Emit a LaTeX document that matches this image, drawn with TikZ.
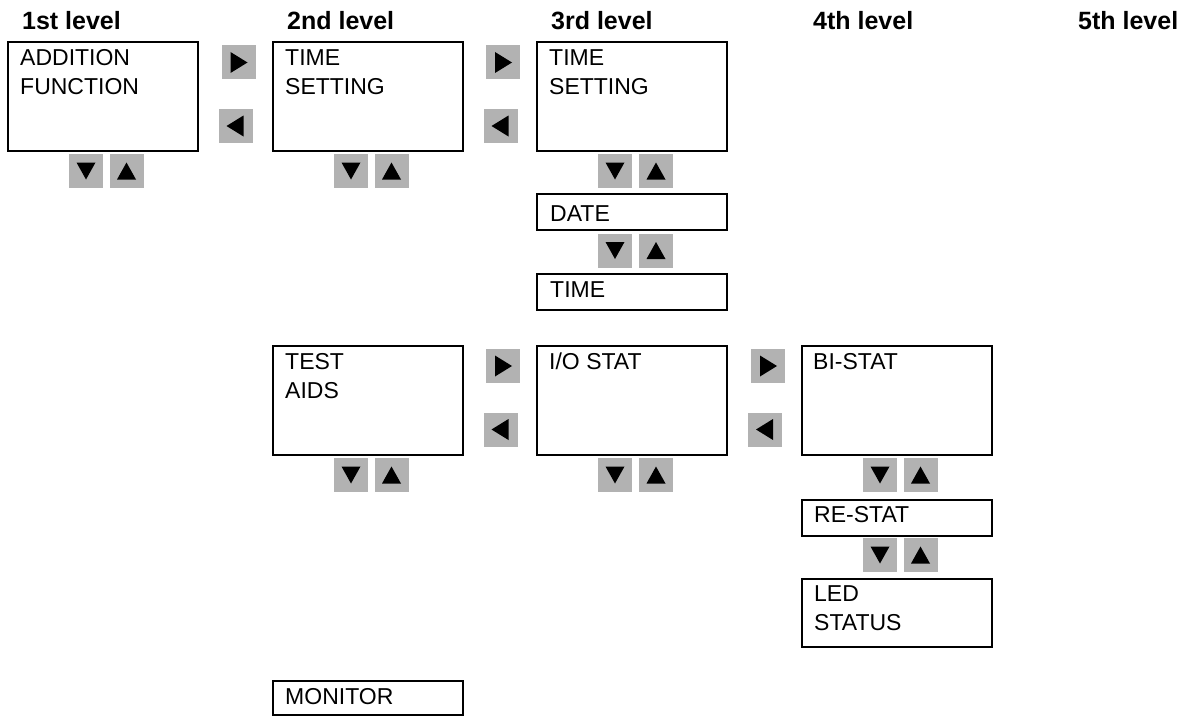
\documentclass[tikz,border=0pt]{standalone}
\usepackage{fontspec}
\setmainfont{Liberation Sans}
\definecolor{btngray}{RGB}{178,178,178}
\begin{document}
\begin{tikzpicture}[x=1pt,y=-1pt,
  levelhead/.style={anchor=base west, inner sep=0pt, font=\bfseries\fontsize{25}{30}\selectfont},
  menubox/.style={draw=black, line width=2pt, anchor=north west, inner sep=0pt, outer sep=0pt, minimum width=190pt},
  bigbox/.style={menubox, minimum height=109pt},
  smallbox/.style={menubox, minimum height=36pt},
  medbox/.style={menubox, minimum height=68pt},
  menutext/.style={anchor=base west, inner sep=0pt, font=\fontsize{23}{27}\selectfont},
  btn/.style={fill=btngray, minimum size=34pt, inner sep=0pt, outer sep=0pt},
  btnright/.style={btn, path picture={\fill[black] ([shift={(-8pt,10.5pt)}]path picture bounding box.center) -- ([shift={(-8pt,-10.5pt)}]path picture bounding box.center) -- ([shift={(9pt,0pt)}]path picture bounding box.center) -- cycle;}},
  btnleft/.style={btn, path picture={\fill[black] ([shift={(8pt,10.5pt)}]path picture bounding box.center) -- ([shift={(8pt,-10.5pt)}]path picture bounding box.center) -- ([shift={(-9pt,0pt)}]path picture bounding box.center) -- cycle;}},
  btndown/.style={btn, path picture={\fill[black] ([shift={(-9.5pt,8.5pt)}]path picture bounding box.center) -- ([shift={(9.5pt,8.5pt)}]path picture bounding box.center) -- ([shift={(0pt,-8.5pt)}]path picture bounding box.center) -- cycle;}},
  btnup/.style={btn, path picture={\fill[black] ([shift={(-9.5pt,-8.5pt)}]path picture bounding box.center) -- ([shift={(9.5pt,-8.5pt)}]path picture bounding box.center) -- ([shift={(0pt,8.5pt)}]path picture bounding box.center) -- cycle;}}
]
\useasboundingbox (0,0) rectangle (1192,717);

% level headings
\node[levelhead] (h1) at (22,30) {1st level};
\node[levelhead] (h2) at (287,30) {2nd level};
\node[levelhead] (h3) at (551,30) {3rd level};
\node[levelhead] (h4) at (813,30) {4th level};
\node[levelhead] (h5) at (1078,30) {5th level};

% 1st level
\node[bigbox] (addfn) at (8,42) {};
\node[menutext] (addfn1) at (20,65.5) {ADDITION};
\node[menutext] (addfn2) at (20,94.5) {FUNCTION};
\node[btndown] (addfnD) at (86,171) {};
\node[btnup] (addfnU) at (126.5,171) {};

% 1st <-> 2nd
\node[btnright] (r12) at (238.5,62.5) {};
\node[btnleft] (l12) at (235.5,126) {};

% 2nd level: time setting
\node[bigbox] (tset2) at (273,42) {};
\node[menutext] (tset2a) at (285,65.5) {TIME};
\node[menutext] (tset2b) at (285,94.5) {SETTING};
\node[btndown] (tset2D) at (351,171) {};
\node[btnup] (tset2U) at (391.5,171) {};

% 2nd <-> 3rd
\node[btnright] (r23) at (503,62.5) {};
\node[btnleft] (l23) at (500.5,126) {};

% 3rd level: time setting
\node[bigbox] (tset3) at (537,42) {};
\node[menutext] (tset3a) at (549,65.5) {TIME};
\node[menutext] (tset3b) at (549,94.5) {SETTING};
\node[btndown] (tset3D) at (615,171) {};
\node[btnup] (tset3U) at (656,171) {};
\node[smallbox] (date) at (537,194) {};
\node[menutext] (datet) at (550,221) {DATE};
\node[btndown] (dateD) at (615,250.5) {};
\node[btnup] (dateU) at (656,250.5) {};
\node[smallbox] (time) at (537,274) {};
\node[menutext] (timet) at (550,297) {TIME};

% 2nd level: test aids
\node[bigbox] (taids) at (273,346) {};
\node[menutext] (taidsa) at (285,369.5) {TEST};
\node[menutext] (taidsb) at (285,398.5) {AIDS};
\node[btndown] (taidsD) at (351,475) {};
\node[btnup] (taidsU) at (391.5,475) {};

% 2nd <-> 3rd
\node[btnright] (r23b) at (503,366) {};
\node[btnleft] (l23b) at (500.5,429.5) {};

% 3rd level: I/O stat
\node[bigbox] (iostat) at (537,346) {};
\node[menutext] (iostatt) at (549,369.5) {I/O STAT};
\node[btndown] (iostatD) at (615,475) {};
\node[btnup] (iostatU) at (656,475) {};

% 3rd <-> 4th
\node[btnright] (r34) at (768,366) {};
\node[btnleft] (l34) at (765,429.5) {};

% 4th level
\node[bigbox] (bistat) at (802,346) {};
\node[menutext] (bistatt) at (813,369.5) {BI-STAT};
\node[btndown] (bistatD) at (880,475) {};
\node[btnup] (bistatU) at (920.5,475) {};
\node[smallbox] (restat) at (802,500) {};
\node[menutext] (restatt) at (814,522) {RE-STAT};
\node[btndown] (restatD) at (880,555) {};
\node[btnup] (restatU) at (920.5,555) {};
\node[medbox] (led) at (802,579) {};
\node[menutext] (leda) at (814,601) {LED};
\node[menutext] (ledb) at (814,630) {STATUS};

% 2nd level: monitor
\node[smallbox, minimum height=34pt] (monitor) at (273,681) {};
\node[menutext] (monitort) at (285,704) {MONITOR};
\end{tikzpicture}
\end{document}
